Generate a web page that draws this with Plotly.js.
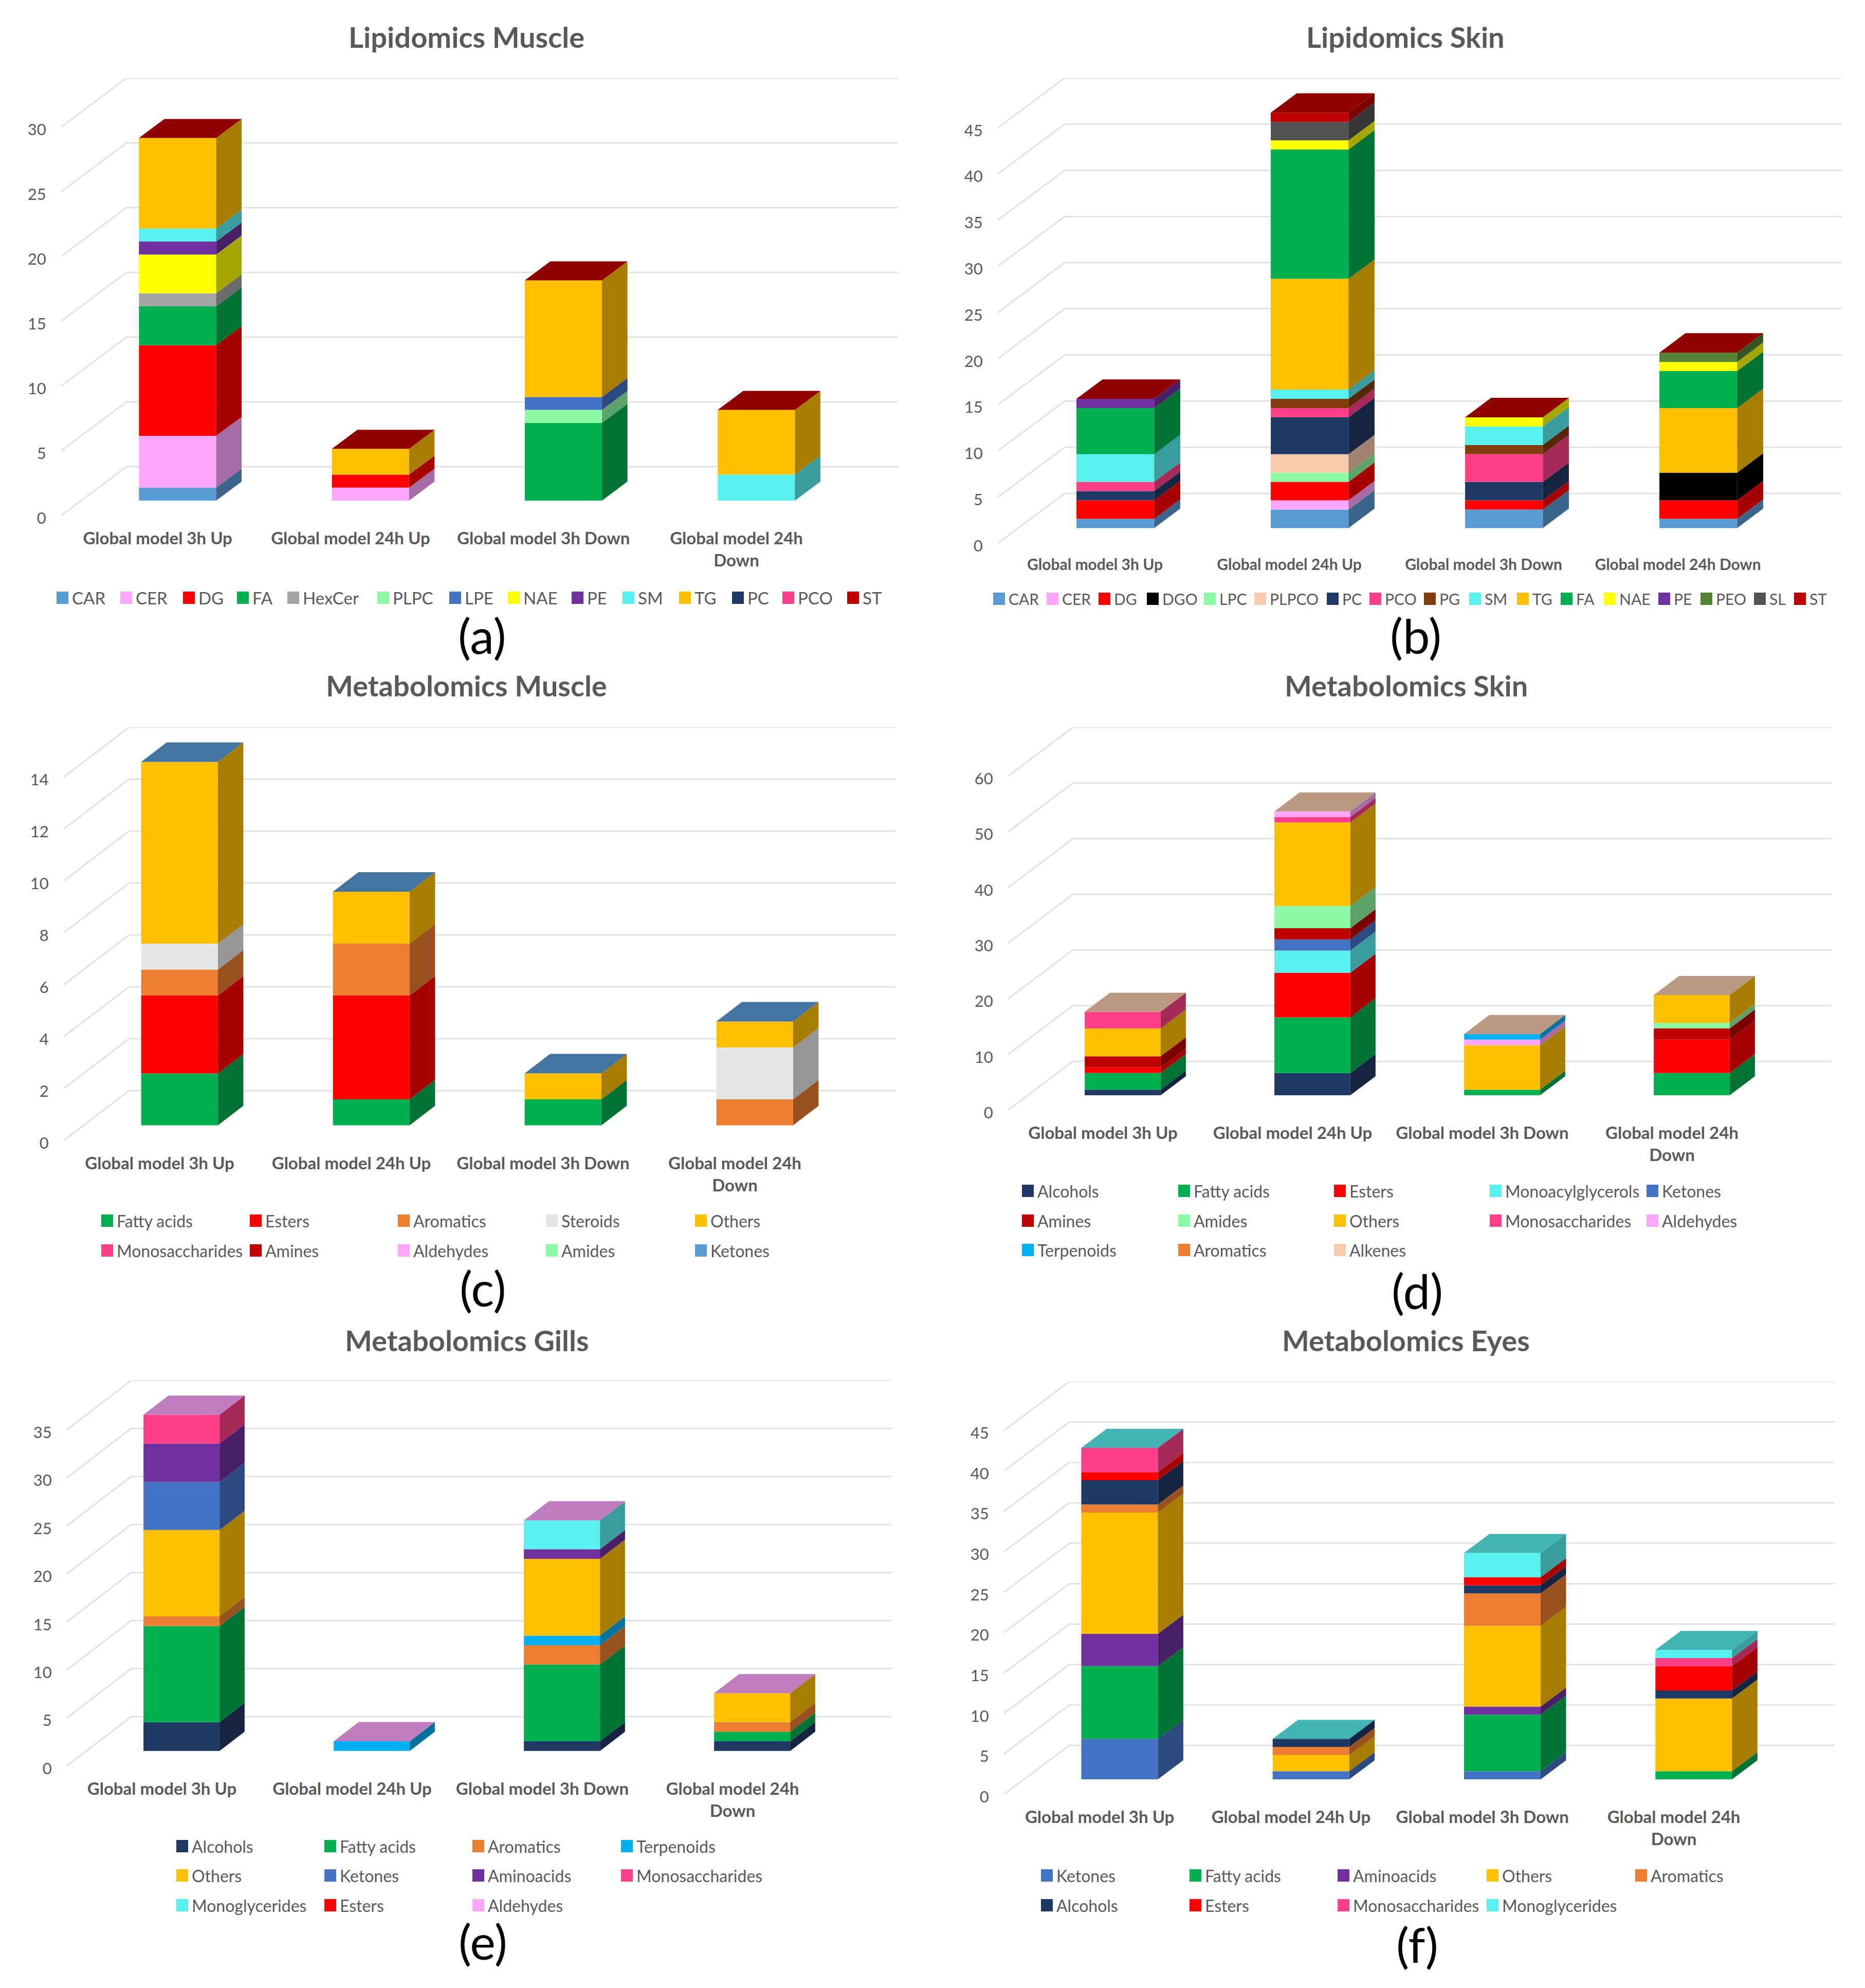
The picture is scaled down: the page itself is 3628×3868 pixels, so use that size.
<!DOCTYPE html>
<html>
<head>
<meta charset="utf-8">
<script src="https://cdn.plot.ly/plotly-3.0.1.min.js"></script>
<style>html,body{margin:0;padding:0;background:#fff}#chart{width:3628px;height:3868px}</style>
</head>
<body>
<div id="chart"></div>
<script>
// ---------- data ----------
const categories = ['Global model 3h Up', 'Global model 24h Up', 'Global model 3h Down', 'Global model 24h Down'];
const categoriesWrapped = ['Global model 3h Up', 'Global model 24h Up', 'Global model 3h Down', 'Global model 24h<br>Down'];

const palette = {
  CAR:'#5B9BD5', CER:'#FFA6FF', DG:'#FF0000', DGO:'#000000', FA:'#00B050', HexCer:'#A5A5A5', PLPC:'#8CF9A5', LPC:'#8CF9A5',
  PLPCO:'#F8CBAD', LPE:'#4472C4', NAE:'#FFFF00', PE:'#7030A0', PEO:'#548235', PG:'#843C0C', SL:'#525252', SM:'#59F0F0',
  TG:'#FFC000', PC:'#1F3864', PCO:'#FF4088', ST:'#C00000',
  'Fatty acids':'#00B050', Esters:'#FF0000', Aromatics:'#ED7D31', Steroids:'#E7E6E6', Others:'#FFC000',
  Monosaccharides:'#FF4088', Amines:'#C00000', Aldehydes:'#FFA6FF', Amides:'#8CF9A5', Ketones:'#4472C4',
  Alcohols:'#1F3864', Monoacylglycerols:'#59F0F0', Monoglycerides:'#59F0F0', Terpenoids:'#00B0F0', Alkenes:'#F8CBAD', Aminoacids:'#7030A0'
};
const ketonesPanelC = '#5B9BD5';

const aSeries = ['CAR','CER','DG','FA','HexCer','PLPC','LPE','NAE','PE','SM','TG','PC','PCO','ST'];
const aValues = [[1,0,0,0],[4,1,0,0],[7,1,0,0],[3,0,6,0],[1,0,0,0],[0,0,1,0],[0,0,1,0],[3,0,0,0],[1,0,0,0],[1,0,0,2],[7,2,9,5],[0,0,0,0],[0,0,0,0],[0,0,0,0]];

const bSeries = ['CAR','CER','DG','DGO','LPC','PLPCO','PC','PCO','PG','SM','TG','FA','NAE','PE','PEO','SL','ST'];
const bValues = [[1,2,2,1],[0,1,0,0],[2,2,1,2],[0,0,0,3],[0,1,0,0],[0,2,0,0],[1,4,2,0],[1,1,3,0],[0,1,1,0],[3,1,2,0],[0,12,0,7],[5,14,0,4],[0,1,1,1],[1,0,0,0],[0,0,0,1],[0,2,0,0],[0,1,0,0]];

const cSeries = ['Fatty acids','Esters','Aromatics','Steroids','Others','Monosaccharides','Amines','Aldehydes','Amides','Ketones'];
const cValues = [[2,1,1,0],[3,4,0,0],[1,2,0,1],[1,0,0,2],[7,2,1,1],[0,0,0,0],[0,0,0,0],[0,0,0,0],[0,0,0,0],[0,0,0,0]];

const dSeries = ['Alcohols','Fatty acids','Esters','Monoacylglycerols','Ketones','Amines','Amides','Others','Monosaccharides','Aldehydes','Terpenoids','Aromatics','Alkenes'];
const dValues = [[1,4,0,0],[3,10,1,4],[1,8,0,6],[0,4,0,0],[0,2,0,0],[2,2,0,2],[0,4,0,1],[5,15,8,5],[3,1,0,0],[0,1,1,0],[0,0,1,0],[0,0,0,0],[0,0,0,0]];

const eSeries = ['Alcohols','Fatty acids','Aromatics','Terpenoids','Others','Ketones','Aminoacids','Monosaccharides','Monoglycerides','Esters','Aldehydes'];
const eValues = [[3,0,1,1],[10,0,8,1],[1,0,2,1],[0,1,1,0],[9,0,8,3],[5,0,0,0],[4,0,1,0],[3,0,0,0],[0,0,3,0],[0,0,0,0],[0,0,0,0]];

const fSeries = ['Ketones','Fatty acids','Aminoacids','Others','Aromatics','Alcohols','Esters','Monosaccharides','Monoglycerides'];
const fValues = [[5,1,1,0],[9,0,7,1],[4,0,1,0],[15,2,10,9],[1,1,4,0],[3,1,1,1],[1,0,1,3],[3,0,0,1],[0,0,3,1]];

const aTicks = [0,5,10,15,20,25,30];
const bTicks = [0,5,10,15,20,25,30,35,40,45];
const cTicks = [0,2,4,6,8,10,12,14];
const dTicks = [0,10,20,30,40,50,60];
const eTicks = [0,5,10,15,20,25,30,35];
const fTicks = [0,5,10,15,20,25,30,35,40,45];

// ---------- page geometry (pixels) ----------
const W = 3628, H = 3868;
const DEPTH_FRONT = 0.305, DEPTH_BACK = 0.695, BAR_WIDTH = 0.4;
const panels = [
  {title:'Lipidomics Muscle', letter:'(a)', series:aSeries, values:aValues, ticks:aTicks, labels:categoriesWrapped, catFont:33, legFont:33,
   x0:119, y0:1003, cat:375.3, k:25.2, dx:127, dy:95, titleX:907, titleY:71, letterX:937, letterY:1235,
   legendRows:[1163], legendCols:[110,234,356,461,559,734,874,988,1112,1211,1321,1424,1522,1648], perRow:14},
  {title:'Lipidomics Skin', letter:'(b)', series:bSeries, values:bValues, ticks:bTicks, labels:categories, catFont:30, legFont:30,
   x0:1941, y0:1057, cat:378, k:17.96, dx:130, dy:97, titleX:2734, titleY:71, letterX:2754, letterY:1235,
   legendRows:[1165], legendCols:[1932,2036,2137,2231,2342,2440,2581,2664,2770,2858,2951,3036,3120,3226,3308,3412,3490], perRow:17},
  {title:'Metabolomics Muscle', letter:'(c)', series:cSeries, values:cValues, ticks:cTicks, labels:categoriesWrapped, catFont:33, legFont:32,
   x0:124, y0:2219, cat:373, k:50.5, dx:127, dy:97, titleX:907, titleY:1333, letterX:940, letterY:2505,
   legendRows:[2375,2433], legendCols:[197,486,774,1062,1352], perRow:5},
  {title:'Metabolomics Skin', letter:'(d)', series:dSeries, values:dValues, ticks:dTicks, labels:categoriesWrapped, catFont:33, legFont:32,
   x0:1961, y0:2160, cat:369, k:10.83, dx:126, dy:95, titleX:2735, titleY:1333, letterX:2757, letterY:2510,
   legendRows:[2317,2375,2432], legendCols:[1988,2292,2595,2898,3203], perRow:5},
  {title:'Metabolomics Gills', letter:'(e)', series:eSeries, values:eValues, ticks:eTicks, labels:categoriesWrapped, catFont:33, legFont:32,
   x0:130, y0:3436, cat:370, k:18.69, dx:125, dy:96, titleX:908, titleY:2607, letterX:940, letterY:3776,
   legendRows:[3592,3649,3707], legendCols:[343,631,919,1208], perRow:4},
  {title:'Metabolomics Eyes', letter:'(f)', series:fSeries, values:fValues, ticks:fTicks, labels:categoriesWrapped, catFont:33, legFont:32,
   x0:1953, y0:3491, cat:372.3, k:15.73, dx:127, dy:95, titleX:2735, titleY:2607, letterX:2757, letterY:3782,
   legendRows:[3649,3707], legendCols:[2025,2314,2602,2892,3181], perRow:5}
];

// ---------- helpers ----------
const FONT = 'Lato, "Open Sans", sans-serif';
const px = x => x / W;
const py = y => 1 - y / H;
function shade(hex, f) {
  const n = parseInt(hex.slice(1), 16);
  const c = [(n >> 16) & 255, (n >> 8) & 255, n & 255].map(v => Math.round(v * f));
  return `rgb(${c[0]},${c[1]},${c[2]})`;
}
function colourOf(panelIndex, name) {
  return (panelIndex === 2 && name === 'Ketones') ? ketonesPanelC : palette[name];
}

const traces = [], shapes = [], annotations = [];
const layout = {
  width: W, height: H, autosize: false, showlegend: false, barmode: 'overlay',
  margin: {l:0, r:0, t:0, b:0, pad:0}, paper_bgcolor:'#fff', plot_bgcolor:'rgba(0,0,0,0)',
  font: {family: FONT, color:'#595959'}, hovermode:false
};

panels.forEach((p, pi) => {
  const suffix = pi === 0 ? '' : String(pi + 1);
  const xa = 'x' + suffix, ya = 'y' + suffix;
  const depthX = p.dx / p.cat;                      // wall depth in category units
  const vTop = p.ticks[p.ticks.length - 1];
  const depthY = p.dy / p.k;                        // wall depth in value units
  const xMin = -0.5, xMax = 3.5 + depthX;
  const pxLeft = p.x0, pxRight = p.x0 + 4 * p.cat + p.dx;
  const pxBottom = p.y0, pxTop = p.y0 - vTop * p.k - p.dy;

  layout['xaxis' + suffix] = {
    domain: [px(pxLeft), px(pxRight)], range: [xMin, xMax], anchor: ya, fixedrange: true,
    tickmode:'array', tickvals:[0,1,2,3], ticktext:p.labels, tickangle:0,
    ticks:'outside', ticklen:15, tickcolor:'rgba(0,0,0,0)', showgrid:false, zeroline:false, showline:false,
    tickfont:{family:FONT, size:p.catFont, color:'#595959', weight:'bold'}
  };
  layout['yaxis' + suffix] = {
    domain: [py(pxBottom), py(pxTop)], range: [0, vTop + depthY], anchor: xa, fixedrange: true,
    tickmode:'array', tickvals:p.ticks, ticklabelshift:5,
    ticks:'outside', ticklen:22, tickcolor:'rgba(0,0,0,0)', showgrid:false, zeroline:false, showline:false,
    tickfont:{family:FONT, size:31, color:'#595959'}
  };

  // back wall and side wall grid lines, from the tick values
  p.ticks.forEach(t => {
    shapes.push({
      type:'path', xref:xa, yref:ya, layer:'below',
      path:`M ${xMin} ${t} L ${xMin + depthX} ${t + depthY} L ${xMax} ${t + depthY}`,
      line:{color:'#E2E2E2', width:3}
    });
  });

  // stacked front faces, side faces and top face
  const cum = [0,0,0,0];
  const barW = BAR_WIDTH;
  const frontShiftX = DEPTH_FRONT * depthX, frontShiftY = DEPTH_FRONT * depthY;
  const sideDX = (DEPTH_BACK - DEPTH_FRONT) * depthX, sideDY = (DEPTH_BACK - DEPTH_FRONT) * depthY;
  p.series.forEach((name, si) => {
    const vals = p.values[si];
    const col = colourOf(pi, name);
    const bases = cum.map(c => c + frontShiftY);
    traces.push({
      type:'bar', name, xaxis:xa, yaxis:ya,
      x:[0,1,2,3].map(i => i + frontShiftX), y:vals, base:bases, width:barW,
      marker:{color:col, line:{width:0}}, hoverinfo:'skip'
    });
    const sx = [], sy = [];
    vals.forEach((v, i) => {
      if (!v) return;
      const xr = i + frontShiftX + barW / 2, b = bases[i];
      sx.push(xr, xr + sideDX, xr + sideDX, xr, null);
      sy.push(b, b + sideDY, b + v + sideDY, b + v, null);
    });
    if (sx.length) traces.push({
      type:'scatter', mode:'lines', xaxis:xa, yaxis:ya, x:sx, y:sy, fill:'toself',
      fillcolor:shade(col, 0.65), line:{width:0, color:shade(col, 0.65)}, hoverinfo:'skip', showlegend:false
    });
    vals.forEach((v, i) => { cum[i] += v; });
  });
  const lastColour = colourOf(pi, p.series[p.series.length - 1]);
  const tx = [], ty = [];
  cum.forEach((c, i) => {
    const xl = i + frontShiftX - barW / 2, xr = xl + barW, yt = c + frontShiftY;
    tx.push(xl, xr, xr + sideDX, xl + sideDX, null);
    ty.push(yt, yt, yt + sideDY, yt + sideDY, null);
  });
  traces.push({
    type:'scatter', mode:'lines', xaxis:xa, yaxis:ya, x:tx, y:ty, fill:'toself',
    fillcolor:shade(lastColour, 0.75), line:{width:0, color:shade(lastColour, 0.75)}, hoverinfo:'skip', showlegend:false
  });

  // panel title and letter
  annotations.push({xref:'paper', yref:'paper', x:px(p.titleX), y:py(p.titleY), xanchor:'center', yanchor:'middle',
    text:'<b>' + p.title + '</b>', showarrow:false, font:{family:FONT, size:56, color:'#595959'}});
  annotations.push({xref:'paper', yref:'paper', x:px(p.letterX), y:py(p.letterY), xanchor:'center', yanchor:'middle',
    text:p.letter, showarrow:false, font:{family:FONT, size:94, color:'#000000'}});

  // legend
  p.series.forEach((name, si) => {
    const col = si % p.perRow, row = Math.floor(si / p.perRow);
    const lx = p.legendCols[col], ly = p.legendRows[row];
    shapes.push({type:'rect', xref:'paper', yref:'paper', x0:px(lx), x1:px(lx + 23), y0:py(ly - 12), y1:py(ly + 12),
      fillcolor:colourOf(pi, name), line:{width:0}, layer:'above'});
    annotations.push({xref:'paper', yref:'paper', x:px(lx + 28), y:py(ly), xanchor:'left', yanchor:'middle',
      text:name, showarrow:false, font:{family:FONT, size:p.legFont, color:'#595959'}});
  });
});

layout.shapes = shapes;
layout.annotations = annotations;
Plotly.newPlot('chart', traces, layout, {displayModeBar:false, responsive:false});
</script>
</body>
</html>
